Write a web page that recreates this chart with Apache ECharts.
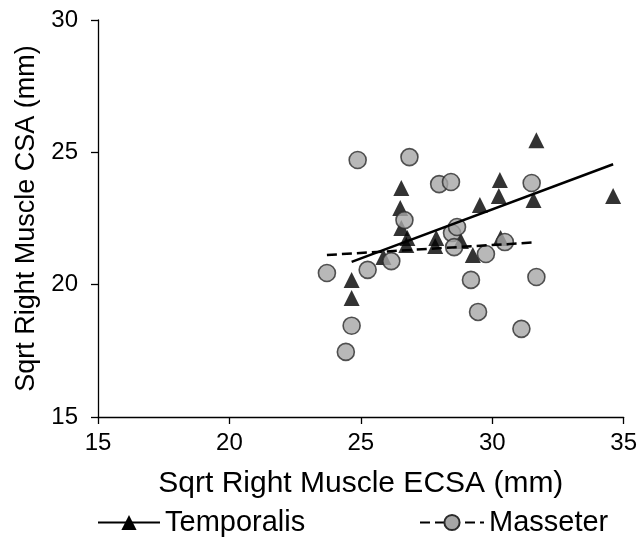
<!DOCTYPE html>
<html><head><meta charset="utf-8">
<script src="https://cdn.jsdelivr.net/npm/echarts@6/dist/echarts.min.js"></script>
<style>html,body{margin:0;padding:0;background:#fff}#c{width:640px;height:545px}</style>
</head><body><div id="c"></div>
<script>
const xTicks = [15, 20, 25, 30, 35];
const yTicks = [15, 20, 25, 30];
const seriesNames = ['Temporalis', 'Masseter'];
const temporalisX = [24.65, 24.65, 25.86, 26.54, 26.50, 26.54, 26.77, 26.73, 27.87, 27.83, 28.81, 29.26, 29.53, 30.25, 30.29, 31.57, 31.68, 34.60, 30.32];
const temporalisY = [20.18, 19.50, 21.05, 23.65, 22.90, 22.14, 21.76, 21.50, 21.76, 21.46, 21.65, 21.12, 23.01, 23.35, 23.95, 23.20, 25.46, 23.35, 21.76];
const masseterX = [23.71, 24.43, 24.65, 24.88, 25.26, 26.16, 26.66, 26.85, 27.98, 28.43, 28.47, 28.66, 28.55, 29.19, 29.46, 29.76, 30.48, 31.50, 31.68, 31.11];
const masseterY = [20.44, 17.46, 18.45, 24.71, 20.56, 20.89, 22.44, 24.82, 23.80, 23.88, 21.95, 22.18, 21.42, 20.18, 18.97, 21.16, 21.61, 23.84, 20.29, 18.33];
const temporalisTrendX = [24.65, 34.60];
const temporalisTrendY = [20.86, 24.55];
const masseterTrendX = [23.71, 31.68];
const masseterTrendY = [21.12, 21.60];

const zip = (a, b) => a.map((v, i) => [v, b[i]]);
const FONT = '"Liberation Sans", Arial, sans-serif';
const chart = echarts.init(document.getElementById('c'), null, {renderer: 'canvas'});
chart.setOption({
  animation: false,
  backgroundColor: '#fff',
  textStyle: {fontFamily: FONT, color: '#000'},
  grid: {left: 98, right: 13, top: 20, bottom: 128, containLabel: false},
  xAxis: {
    type: 'value', min: xTicks[0], max: xTicks[xTicks.length - 1], interval: 5,
    name: 'Sqrt Right Muscle ECSA (mm)', nameLocation: 'middle', nameGap: 52,
    nameTextStyle: {fontSize: 30, color: '#000', fontFamily: FONT},
    axisLine: {show: true, onZero: false, lineStyle: {color: '#000', width: 1.3}},
    axisTick: {show: true, length: 7, lineStyle: {color: '#000', width: 1.3}},
    axisLabel: {fontSize: 24, color: '#000', margin: 14, fontFamily: FONT},
    splitLine: {show: false}
  },
  yAxis: {
    type: 'value', min: yTicks[0], max: yTicks[yTicks.length - 1], interval: 5,
    name: 'Sqrt Right Muscle CSA (mm)', nameLocation: 'middle', nameGap: 56,
    nameTextStyle: {fontSize: 27, color: '#000', fontFamily: FONT},
    axisLine: {show: true, onZero: false, lineStyle: {color: '#000', width: 1.3}},
    axisTick: {show: true, length: 7, lineStyle: {color: '#000', width: 1.3}},
    axisLabel: {fontSize: 24, color: '#000', margin: 20, fontFamily: FONT},
    splitLine: {show: false}
  },
  legend: [
    {data: [seriesNames[0]], left: 92, top: 503, itemWidth: 62, itemHeight: 19, itemGap: 5,
     textStyle: {fontSize: 29, color: '#000', fontFamily: FONT}, selectedMode: false},
    {data: [seriesNames[1]], left: 414, top: 503, itemWidth: 64, itemHeight: 19, itemGap: 5,
     textStyle: {fontSize: 29, color: '#000', fontFamily: FONT}, selectedMode: false}
  ],
  series: [
    {name: 'Temporalis pts', type: 'scatter', z: 2, clip: false, symbol: 'triangle', symbolSize: 16,
     itemStyle: {color: '#000'}, data: zip(temporalisX, temporalisY)},
    {name: 'Masseter pts', type: 'scatter', z: 3, clip: false, symbol: 'circle', symbolSize: 17,
     itemStyle: {color: '#a6a6a6', borderColor: '#2b2b2b', borderWidth: 1.6}, data: zip(masseterX, masseterY)},
    {name: seriesNames[0], type: 'line', z: 4, symbol: 'triangle', symbolSize: 16, showSymbol: false,
     itemStyle: {color: '#000'}, lineStyle: {color: '#000', width: 2.5},
     data: zip(temporalisTrendX, temporalisTrendY)},
    {name: seriesNames[1], type: 'line', z: 4, symbol: 'circle', symbolSize: 17, showSymbol: false,
     itemStyle: {color: '#a6a6a6', borderColor: '#2b2b2b', borderWidth: 1.6},
     lineStyle: {color: '#000', width: 2.5, type: [10, 5]},
     data: zip(masseterTrendX, masseterTrendY)}
  ]
});
</script>
</body></html>
